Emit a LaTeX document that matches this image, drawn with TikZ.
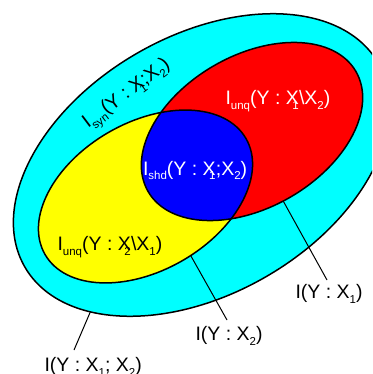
\documentclass[tikz,border=0pt]{standalone}
\usepackage{fontspec}
\setmainfont{Liberation Sans}
\definecolor{aquaC}{RGB}{0,255,255}
\definecolor{redC}{RGB}{255,0,0}
\definecolor{yellowC}{RGB}{255,255,0}
\definecolor{blueC}{RGB}{0,0,255}
\newcommand\mysub[1]{\raisebox{-5pt}{\fontsize{11.5}{12}\selectfont #1}}
\newcommand\ovsub[1]{\kern-6.5pt\mysub{#1}\kern0.3pt}
\tikzset{
  outline/.style={draw=black, line width=1.5pt},
  lead/.style={draw=black, line width=1pt},
  lbl/.style={inner sep=0pt, outer sep=0pt, font=\fontsize{19.5}{23}\selectfont},
  rotO/.style={rotate around={30:(201.5,165)}},
  rotR/.style={rotate around={30:(252,131.5)}},
  rotY/.style={rotate around={30:(145.5,196.5)}}
}
\begin{document}
\begin{tikzpicture}[x=1pt, y=-1pt]
\useasboundingbox (0,0) rectangle (372,374);
\clip (0,0) rectangle (372,374);
% leader coordinates
\coordinate (e3) at (92,308);
\coordinate (t3) at (74,350);
\coordinate (e1) at (276,188);
\coordinate (t1) at (327,280);
\coordinate (e2) at (187,249);
\coordinate (t2) at (227,320);
% leader of outer set (drawn first, start hidden)
\draw[lead] (e3) -- (t3);
% outer ellipse
\path[outline, fill=aquaC, rotO] (201.5,165) ellipse [x radius=204, y radius=129];
% leaders for X1, X2
\draw[lead] (e1) -- (t1);
\draw[lead] (e2) -- (t2);
% red and yellow
\path[fill=redC, rotR] (252,131.5) ellipse [x radius=120, y radius=76];
\path[fill=yellowC, rotY] (145.5,196.5) ellipse [x radius=116, y radius=74];
\begin{scope}
  \clip[rotR] (252,131.5) ellipse [x radius=120, y radius=76];
  \path[fill=blueC, rotY] (145.5,196.5) ellipse [x radius=116, y radius=74];
\end{scope}
\path[outline, rotR] (252,131.5) ellipse [x radius=120, y radius=76];
\path[outline, rotY] (145.5,196.5) ellipse [x radius=116, y radius=74];
% inner labels
\node[lbl, anchor=base west, rotate=37, text=black] (syn) at (88,129)
  {I\mysub{syn}(Y : X\ovsub{1};X\mysub{2})};
\node[lbl, anchor=base west, text=white] (unq1) at (225.5,105)
  {I\mysub{unq}(Y : X\ovsub{1}\textbackslash X\mysub{2})};
\node[lbl, anchor=base west, text=white] (shd) at (143,175)
  {I\mysub{shd}(Y : X\ovsub{1};X\mysub{2})};
\node[lbl, anchor=base west, text=black] (unq2) at (57.5,250)
  {I\mysub{unq}(Y : X\ovsub{2}\textbackslash X\mysub{1})};
% outer labels
\node[lbl, anchor=base west] (lab1) at (295.5,298) {I(Y : X\mysub{1})};
\node[lbl, anchor=base west] (lab2) at (195.5,340) {I(Y : X\mysub{2})};
\node[lbl, anchor=base west] (lab3) at (44.5,371) {I(Y : X\mysub{1}; X\mysub{2})};
\end{tikzpicture}
\end{document}
